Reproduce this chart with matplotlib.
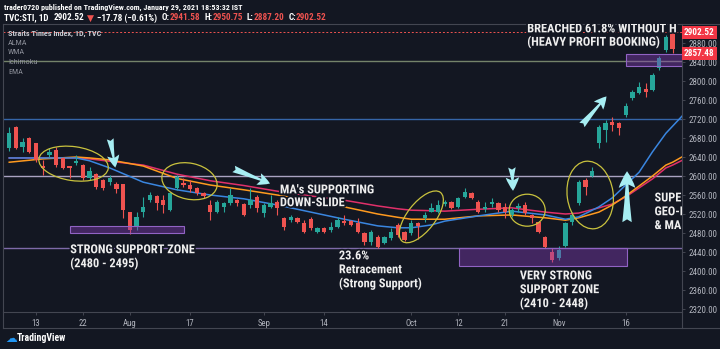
import matplotlib
matplotlib.use("Agg")
import matplotlib.pyplot as plt
import matplotlib.patheffects as pe
import matplotlib.transforms as mtransforms
from matplotlib import font_manager
from matplotlib.patches import Rectangle, Ellipse, FancyArrowPatch
from matplotlib.lines import Line2D

# Straits Times Index, daily bars (x = trading-day number)
opens = [2659, 2703, 2661, 2680, 2669, 2621, 2644, 2655, 2638, 2621,
         2627, 2623, 2596, 2604, 2592, 2587, 2583, 2583, 2524, 2493,
         2524, 2549, 2558, 2549, 2528, 2575, 2585, 2581, 2575, 2564,
         2539, 2524, 2535, 2543, 2549, 2541, 2539, 2556, 2522, 2535,
         2545, 2512, 2507, 2512, 2501, 2509, 2482, 2491, 2486, 2493,
         2505, 2505, 2501, 2480, 2461, 2472, 2459, 2469, 2497, 2482,
         2480, 2501, 2512, 2524, 2524, 2541, 2545, 2535, 2556, 2564,
         2545, 2530, 2541, 2543, 2535, 2518, 2533, 2539, 2518, 2503,
         2472, 2440, 2427, 2453, 2503, 2543, 2592, 2600, 2669, 2697,
         2714, 2712, 2728, 2764, 2775, 2783, 2781, 2827, 2865, 2903]
highs = [2703, 2705, 2680, 2682, 2670, 2634, 2659, 2661, 2640, 2621,
         2644, 2625, 2619, 2606, 2594, 2602, 2587, 2583, 2524, 2524,
         2556, 2566, 2560, 2560, 2566, 2602, 2596, 2592, 2577, 2566,
         2549, 2549, 2545, 2575, 2552, 2543, 2575, 2560, 2543, 2560,
         2549, 2514, 2518, 2514, 2507, 2514, 2493, 2493, 2503, 2514,
         2518, 2507, 2512, 2482, 2486, 2476, 2474, 2491, 2501, 2484,
         2507, 2503, 2524, 2543, 2549, 2549, 2547, 2556, 2575, 2566,
         2549, 2545, 2554, 2545, 2543, 2533, 2543, 2545, 2520, 2505,
         2474, 2448, 2453, 2503, 2524, 2592, 2596, 2619, 2707, 2718,
         2724, 2714, 2754, 2781, 2798, 2796, 2817, 2853, 2897, 2907]
lows = [2653, 2656, 2651, 2649, 2629, 2602, 2640, 2619, 2615, 2596,
        2623, 2592, 2592, 2573, 2571, 2581, 2564, 2512, 2478, 2486,
        2514, 2545, 2528, 2522, 2526, 2571, 2577, 2566, 2560, 2554,
        2507, 2522, 2524, 2539, 2537, 2516, 2533, 2524, 2514, 2533,
        2518, 2486, 2503, 2501, 2480, 2486, 2480, 2480, 2482, 2491,
        2497, 2495, 2480, 2455, 2455, 2448, 2457, 2465, 2472, 2463,
        2476, 2467, 2503, 2524, 2522, 2537, 2531, 2533, 2554, 2552,
        2522, 2524, 2535, 2524, 2512, 2514, 2524, 2518, 2501, 2480,
        2448, 2419, 2423, 2451, 2497, 2539, 2560, 2598, 2659, 2672,
        2695, 2686, 2724, 2760, 2773, 2766, 2779, 2823, 2861, 2858]
closes = [2690, 2659, 2672, 2651, 2634, 2617, 2651, 2623, 2617, 2617,
          2632, 2596, 2611, 2577, 2575, 2596, 2573, 2528, 2486, 2514,
          2535, 2560, 2543, 2539, 2564, 2598, 2581, 2573, 2564, 2558,
          2524, 2545, 2543, 2560, 2543, 2518, 2549, 2533, 2539, 2543,
          2533, 2493, 2514, 2503, 2482, 2491, 2491, 2482, 2493, 2507,
          2501, 2497, 2482, 2461, 2482, 2451, 2472, 2482, 2476, 2465,
          2501, 2495, 2518, 2533, 2539, 2545, 2533, 2554, 2566, 2554,
          2524, 2535, 2545, 2528, 2524, 2528, 2537, 2522, 2512, 2482,
          2451, 2423, 2444, 2501, 2518, 2587, 2577, 2611, 2703, 2712,
          2707, 2701, 2747, 2777, 2787, 2777, 2813, 2848, 2893, 2867]

# moving averages, sampled at these bars
ma_bars = [0, 5, 10, 12, 15, 20, 25, 30, 35, 40, 45, 50, 55, 58, 60,
           63, 65, 70, 75, 80, 83, 85, 88, 90, 92, 94, 96, 98, 99, 101]
ema = [2638, 2638, 2638, 2632, 2617, 2587, 2571, 2560, 2552, 2539, 2524, 2509, 2495, 2491, 2491,
       2497, 2505, 2516, 2526, 2518, 2509, 2514, 2535, 2554, 2581, 2608, 2651, 2690, 2705, 2735]
alma = [2629, 2636, 2640, 2638, 2634, 2621, 2595, 2581, 2571, 2560, 2547, 2535, 2520, 2513, 2509,
        2509, 2509, 2516, 2518, 2512, 2507, 2512, 2524, 2539, 2558, 2579, 2600, 2623, 2629, 2645]
wma = [2638, 2638, 2638, 2636, 2631, 2623, 2604, 2590, 2580, 2568, 2558, 2549, 2537, 2531, 2528,
       2527, 2526, 2530, 2533, 2524, 2520, 2522, 2533, 2541, 2556, 2575, 2594, 2617, 2623, 2637]

date_ticks = [4, 11, 18, 27, 38, 47, 60, 67, 74, 82, 92]
date_labels = ["13", "22", "Aug", "17", "Sep", "14", "Oct", "12", "21", "Nov", "16"]
price_ticks = list(range(2320, 2881, 40))

last_price = 2902.52
zone_price = 2857.48
level_2720 = 2720
level_2600 = 2600
level_2448 = 2448
level_618 = 2843

# support / resistance zones: (first bar, last bar, low, high)
zones = [(9.1, 26.1, 2480, 2495),
         (67.1, 92.2, 2410, 2448),
         (92.1, 100.6, 2832, zone_price)]

BG = "#131722"
UP, DOWN = "#26a69a", "#ef5350"
GRID = "#434651"
TXT = "#b2b5be"

# narrow sans for all chart text
names = {f.name for f in font_manager.fontManager.ttflist}
NARROW = dict(family=[n for n in ["Roboto Condensed", "Liberation Sans Narrow", "Roboto", "DejaVu Sans"]
                      if n in names or n == "DejaVu Sans"])

W, H = 720, 349
fx = lambda px: px / W
fy = lambda py: 1 - py / H

fig = plt.figure(figsize=(7.2, 3.49), dpi=100, facecolor=BG)
ax = fig.add_axes([fx(3), fy(312), fx(682) - fx(3), fy(24) - fy(312)])
ax.set_facecolor(BG)
ax.set_xlim(-0.93, 100.4)
ax.set_ylim(2313.7, 2920)

# candles
xs = list(range(len(opens)))
cols = [UP if c >= o else DOWN for o, c in zip(opens, closes)]
ax.vlines(xs, lows, highs, colors=cols, lw=0.8, zorder=3)
bottoms = [min(o, c) for o, c in zip(opens, closes)]
heights = [max(abs(c - o), 1.5) for o, c in zip(opens, closes)]
ax.bar(xs, heights, bottom=bottoms, width=0.64, color=cols, lw=0, zorder=4)

# moving averages
ax.plot(ma_bars, wma, color="#e0306a", lw=1.1, zorder=2)
ax.plot(ma_bars, alma, color="#ff9a1f", lw=1.1, zorder=2)
ax.plot(ma_bars, ema, color="#3a86e0", lw=1.1, zorder=2)

# horizontal levels
ax.axhline(last_price, color=DOWN, lw=0.7, ls=(0, (2, 2)), zorder=1)
ax.axhline(level_618, color="#74836a", lw=1.0, zorder=1)
ax.axhline(level_2720, color="#3565a8", lw=1.0, zorder=1)
ax.axhline(level_2600, color="#aaa3c2", lw=1.0, zorder=1)
ax.axhline(level_2448, color="#7e6aa8", lw=1.0, zorder=1)

for x0, x1, lo, hi in zones:
    ax.add_patch(Rectangle((x0, lo), x1 - x0, hi - lo, fc=(0.52, 0.24, 0.72, 0.42),
                           ec="#9163c4", lw=0.8, zorder=5))

# hand-drawn circles around consolidations
def ring(cx, cy, w, h, ang):
    tr = fig.dpi_scale_trans + mtransforms.ScaledTranslation(cx, cy, ax.transData)
    ax.add_patch(Ellipse((0, 0), w / 100, h / 100, angle=ang, transform=tr,
                         fill=False, ec="#c9c23e", lw=0.9, zorder=6))

ring(9.6, 2626, 70, 34, -8)
ring(26.9, 2589, 56, 36, -12)
ring(61.5, 2514, 62, 28, 52)
ring(77.3, 2528, 36, 32, 0)
ring(86.7, 2560, 46, 68, 8)

# arrows
def arrow(p0, p1, size):
    ax.add_patch(FancyArrowPatch(p0, p1, arrowstyle="fancy,head_length=0.8,head_width=0.8,tail_width=0.45",
                                 mutation_scale=size, color="#a7eef3", lw=0, zorder=7))

arrow((15.0, 2684), (15.9, 2612), 11)
arrow((33.1, 2617), (39.3, 2582), 11)
arrow((75.0, 2624), (75.2, 2563), 12)
arrow((92.2, 2497), (92.2, 2616), 15)
arrow((85.2, 2703), (89.4, 2772), 11)

# chart notes: first-line baseline given, block hung from its top
halo = [pe.withStroke(linewidth=2.4, foreground=BG)]
def note(x, y, lines, spacing, size=8.9):
    ax.text(x, y + 18.5, "\n".join(lines), color="#eeeeee", fontsize=size, fontweight="bold",
            ha="left", va="top", linespacing=spacing, path_effects=halo,
            clip_on=True, zorder=8, **NARROW)

note(77.3, 2905, ["BREACHED 61.8% WITHOUT H", "(HEAVY PROFIT BOOKING)"], 1.02)
note(40.4, 2566, ["MA's SUPPORTING", "DOWN-SLIDE"], 0.98)
note(9.1, 2440, ["STRONG SUPPORT ZONE", "(2480 - 2495)"], 1.08)
note(49.2, 2427, ["23.6%", "Retracement", "(Strong Support)"], 1.08)
note(76.2, 2385, ["VERY STRONG", "SUPPORT ZONE", "(2410 - 2448)"], 1.08)
note(96.3, 2549, ["SUPER", "GEO-P", "& MA"], 1.08)

# legend block
leg_y = [33, 43, 52, 62, 72]
leg_t = ["Straits Times Index, 1D, TVC", "ALMA", "WMA", "Ichimoku", "EMA"]
for i, (yy, s) in enumerate(zip(leg_y, leg_t)):
    fig.text(fx(8), fy(yy), s, color="#c8cad1" if i == 0 else "#8b8e98",
             fontsize=5.9, fontweight="bold" if i == 0 else "normal",
             va="center", zorder=9, **NARROW)

# axes styling
for sp in ax.spines.values():
    sp.set_color(GRID)
    sp.set_linewidth(0.8)
ax.yaxis.tick_right()
ax.set_yticks(price_ticks)
ax.set_yticklabels([f"{p:.2f}" for p in price_ticks])
ax.set_xticks(date_ticks)
ax.set_xticklabels(date_labels)
ax.tick_params(axis="y", colors=GRID, labelcolor=TXT, labelsize=6.5, length=2.5, pad=2.5, width=0.7)
ax.tick_params(axis="x", colors=GRID, labelcolor=TXT, labelsize=6.3, length=2.0, pad=3.0, width=0.7)
for lab in ax.get_xticklabels() + ax.get_yticklabels():
    lab.set_family(NARROW["family"])

# price flags
for p in (last_price, zone_price):
    ax.text(1.003, p, f"{p:.2f}", transform=ax.get_yaxis_transform(), color="white",
            fontsize=6.6, fontweight="bold", ha="left", va="center",
            bbox=dict(boxstyle="square,pad=0.22", fc="#f23645", ec="none"), zorder=10, **NARROW)

# pane frame lines
for (x0, y0, x1, y1) in [(3, 328, 720, 328), (682, 312, 682, 328), (3, 312, 3, 328),
                         (682, 24, 720, 24)]:
    fig.add_artist(Line2D([fx(x0), fx(x1)], [fy(y0), fy(y1)], color=GRID, lw=0.8))

# header
fig.text(fx(4), fy(7), "trader0720 published on TradingView.com, January 29, 2021 18:53:32 IST",
         color="white", fontsize=5.8, fontweight="bold", va="center", **NARROW)
runs = [("TVC:STI, 1D", "white", 5), ("2902.52", "white", 3), ("\u25bc", DOWN, 3),
        ("\u221217.78 (\u22120.61%)", "white", 4), ("O:", "white", 0), ("2941.58", DOWN, 4),
        ("H:", "white", 0), ("2950.75", DOWN, 4), ("L:", "white", 0), ("2887.20", DOWN, 4),
        ("C:", "white", 0), ("2902.52", DOWN, 0)]
renderer = fig.canvas.get_renderer()
cx = 4
for s, c, gap in runs:
    t = fig.text(fx(cx), fy(18), s, color=c, fontsize=6.6, fontweight="bold", va="center", **NARROW)
    cx += t.get_window_extent(renderer=renderer).width + gap

# footer logo
fig.text(fx(5), fy(338), "\u2601", color="#2196f3", fontsize=8.5, va="center", family="DejaVu Sans")
fig.text(fx(17), fy(338), "TradingView", color="white", fontsize=7.0, fontweight="bold",
         va="center", **NARROW)

fig.savefig("out.png", dpi=100, facecolor=BG)
